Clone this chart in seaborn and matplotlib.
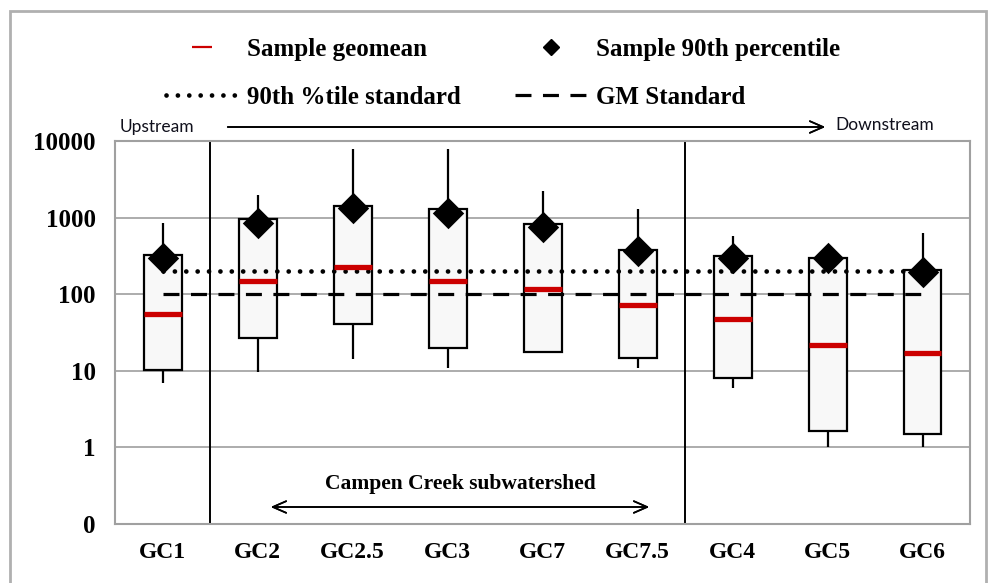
import numpy as np
import pandas as pd
import matplotlib
matplotlib.use("Agg")
import matplotlib.pyplot as plt
from matplotlib.lines import Line2D
from matplotlib.patches import Rectangle
from matplotlib.ticker import FixedLocator, NullLocator
import seaborn as sns

# Sites, upstream -> downstream
sites = ["GC1", "GC2", "GC2.5", "GC3", "GC7", "GC7.5", "GC4", "GC5", "GC6"]

# (log scale)
sample_min = [6.9, 9.6, 14.3, 11, 17, 11, 6, 1.0, 1.0]
box_low = [10.3, 27, 41, 20, 17.6, 14.7, 8.1, 1.65, 1.5]
geomean = [55, 150, 228, 150, 118, 72, 47, 21.7, 17]
box_high = [325, 960, 1420, 1300, 830, 380, 316, 298, 207]
sample_max = [850, 1970, 7800, 7800, 2240, 1300, 580, 300, 630]
p90 = [300, 860, 1330, 1150, 760, 370, 295, 295, 195]

p90_standard = 200
gm_standard = 100

serif = "Liberation Serif"
dotted = (0, (0.01, 2.4))
dashed = (0, (5, 3.6))

# long table: min / low / geomean / high / max per site -> whiskers, box, middle line
df = pd.DataFrame({
    "site": np.repeat(sites, 5),
    "value": np.column_stack([sample_min, box_low, geomean, box_high, sample_max]).ravel(),
})

sns.set_theme(style="white")
plt.rcParams.update({"text.color": "black", "xtick.color": "black", "ytick.color": "black"})
fig = plt.figure(figsize=(9.9, 5.83), dpi=100)
ax = fig.add_axes([115 / 990, 1 - 524 / 583, 855 / 990, 383 / 583])

sns.boxplot(data=df, x="site", y="value", order=sites, whis=(0, 100), width=0.4,
            showcaps=False, fliersize=0, log_scale=True, ax=ax,
            boxprops=dict(facecolor="#f8f8f8", edgecolor="black", linewidth=1.6, zorder=2),
            whiskerprops=dict(color="black", linewidth=1.6),
            medianprops=dict(color="#cc0000", linewidth=3.8, zorder=4))

n = len(sites)
ax.hlines(p90_standard, 0, n - 1, colors="black", linestyles=dotted, linewidth=3.4,
          capstyle="round", zorder=3)
ax.hlines(gm_standard, 0, n - 1, colors="black", linestyles=dashed, linewidth=2.3, zorder=3)

sns.stripplot(x=sites, y=p90, order=sites, marker="D", size=16, color="black",
              jitter=False, ax=ax, zorder=5)

# separators between reaches
for xs in [0.5, 5.5]:
    ax.axvline(xs, color="black", linewidth=1.4, zorder=1)

ax.set_xlim(-0.5, n - 0.5)
ax.set_ylim(0.1, 10000)
ax.yaxis.set_major_locator(FixedLocator([0.1, 1, 10, 100, 1000, 10000]))
ax.yaxis.set_minor_locator(NullLocator())
ax.set_yticklabels(["0", "1", "10", "100", "1000", "10000"], fontfamily=serif, fontweight="bold",
                   fontsize=18, color="black")
ax.set_xticks(range(n))
ax.set_xticklabels(sites, fontfamily=serif, fontweight="bold", fontsize=17, color="black")
ax.set_xticks(np.arange(-0.5, n), minor=True)
ax.tick_params(axis="x", which="major", length=0, pad=13)
ax.tick_params(axis="x", which="minor", length=6, width=1.2, color="#a0a0a0")
ax.tick_params(axis="y", which="major", length=6, width=1.2, color="#a0a0a0", pad=8)
ax.set_xlabel("")
ax.set_ylabel("")
ax.yaxis.grid(True, color="#a6a6a6", linewidth=1.3)
ax.set_axisbelow(True)
for s in ax.spines.values():
    s.set_color("#a0a0a0")
    s.set_linewidth(1.5)

# upstream / downstream arrow
fig.text(120 / 990, 1 - 127 / 583, "Upstream", fontfamily="Lato", fontsize=12.5,
         color="#10101c", va="center", ha="left")
fig.text(835 / 990, 1 - 125 / 583, "Downstream", fontfamily="Lato", fontsize=12.5,
         color="#10101c", va="center", ha="left")
fig.add_artist(plt.annotate("", xy=(828 / 990, 1 - 127 / 583), xytext=(225 / 990, 1 - 127 / 583),
                            xycoords="figure fraction", textcoords="figure fraction",
                            arrowprops=dict(arrowstyle="->,head_length=0.8,head_width=0.35",
                                            color="black", lw=1.2)))

# Campen Creek subwatershed
fig.text(460 / 990, 1 - 484 / 583, "Campen Creek subwatershed", fontfamily=serif,
         fontweight="bold", fontsize=15.5, ha="center", va="center", color="black")
fig.add_artist(plt.annotate("", xy=(652 / 990, 1 - 507 / 583), xytext=(268 / 990, 1 - 507 / 583),
                            xycoords="figure fraction", textcoords="figure fraction",
                            arrowprops=dict(arrowstyle="<->,head_length=0.8,head_width=0.35",
                                            color="black", lw=1.2)))

# legend
handles = [
    Line2D([], [], color="#cc0000", marker="_", markersize=14, markeredgewidth=1.6, linestyle="none"),
    Line2D([], [], color="black", linestyle=dotted, linewidth=3.4, dash_capstyle="round"),
    Line2D([], [], color="black", marker="D", markersize=8, linestyle="none"),
    Line2D([], [], color="black", linestyle=dashed, linewidth=2.3),
]
labels = ["Sample geomean", "90th %tile standard", "Sample 90th percentile", "GM Standard"]
leg = fig.legend(handles, labels, ncol=2, loc="upper left", bbox_to_anchor=(166 / 990, 1 - 38 / 583),
                 frameon=False, borderpad=0, borderaxespad=0, handlelength=2.9, handletextpad=0.35,
                 columnspacing=2.15, labelspacing=0.98,
                 prop=dict(family=serif, weight="bold", size=18))
for t in leg.get_texts():
    t.set_color("black")

# outer frame
fig.add_artist(Rectangle((10 / 990, -0.05), 976 / 990, 1.05 - 11 / 583, transform=fig.transFigure,
                         fill=False, edgecolor="#b0b0b0", linewidth=2))

fig.savefig("out.png", dpi=100)
